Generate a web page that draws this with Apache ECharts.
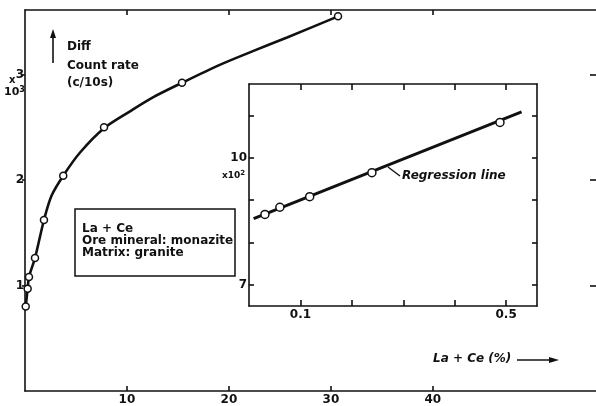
<!DOCTYPE html>
<html><head><meta charset="utf-8">
<script src="https://cdn.jsdelivr.net/npm/echarts@6/dist/echarts.min.js"></script>
<style>html,body{margin:0;padding:0;background:#fff}#c{width:596px;height:406px}</style>
</head><body><div id="c"></div>
<script>
// Main curve: La+Ce (%) vs diff count rate (x10^3 c/10s) - measured points
const mainX = [0.07, 0.26, 0.39, 0.98, 1.86, 3.75, 7.75, 15.4, 30.7];
const mainY = [0.80, 0.97, 1.08, 1.26, 1.62, 2.04, 2.50, 2.92, 3.55];
// drawn curve
const curveX = [0.07, 0.26, 0.39, 0.98, 1.86, 2.6, 3.75, 5.4, 7.75, 10.3, 12.5, 15.4, 19.1, 22.35, 25.7, 30.7];
const curveY = [0.80, 0.97, 1.08, 1.26, 1.62, 1.85, 2.04, 2.26, 2.49, 2.65, 2.78, 2.92, 3.09, 3.22, 3.35, 3.55];
const mainXTicks = [10, 20, 30, 40];
const mainYTicks = [1, 2, 3];
// Inset: low-concentration range (x10^2 c/10s)
const insetX = [0.031, 0.060, 0.118, 0.239, 0.488];
const insetY = [8.66, 8.83, 9.08, 9.65, 10.84];
const regX = [0.009, 0.530];
const regY = [8.56, 11.09];
const insetXTicks = [0.1, 0.2, 0.3, 0.4, 0.5];
const insetXLabels = [0.1, 0.5];
const insetYTicks = [7, 8, 9, 10, 11];
const insetYLabels = [7, 10];

const FONT = 'DejaVu Sans';
const K = '#111';
const line = {show: true, onZero: false, lineStyle: {color: K, width: 1.6}};
const tick = (inside, len, vals) => ({show: true, inside: inside, length: len, customValues: vals, lineStyle: {color: K, width: 1.6}});
const lab = (vals, extra) => Object.assign({customValues: vals, color: K, fontFamily: FONT, fontWeight: 'bold', fontSize: 12}, extra);

const chart = echarts.init(document.getElementById('c'), null, {renderer: 'canvas'});
chart.setOption({
  animation: false,
  backgroundColor: '#fff',
  grid: [
    {left: 25, top: 10, right: -1, bottom: 15, containLabel: false},
    {left: 249, top: 84, right: 59, bottom: 100, containLabel: false}
  ],
  xAxis: [
    {gridIndex: 0, type: 'value', min: 0, max: 56, position: 'bottom',
     axisLine: line, axisTick: tick(true, 5, mainXTicks), splitLine: {show: false},
     axisLabel: lab(mainXTicks, {margin: 3})},
    {gridIndex: 0, type: 'value', min: 0, max: 56, position: 'top',
     axisLine: line, axisTick: tick(true, 5, mainXTicks), splitLine: {show: false}, axisLabel: {show: false}},
    {gridIndex: 1, type: 'value', min: 0, max: 0.56, position: 'bottom',
     axisLine: line, axisTick: tick(true, 6, insetXTicks), splitLine: {show: false},
     axisLabel: lab(insetXLabels, {margin: 3})},
    {gridIndex: 1, type: 'value', min: 0, max: 0.56, position: 'top',
     axisLine: line, axisTick: tick(true, 6, insetXTicks), splitLine: {show: false}, axisLabel: {show: false}}
  ],
  yAxis: [
    {gridIndex: 0, type: 'value', min: 0, max: 3.61, position: 'left',
     axisLine: line, axisTick: tick(false, 3, mainYTicks), splitLine: {show: false},
     axisLabel: lab(mainYTicks, {margin: 1})},
    {gridIndex: 0, type: 'value', min: 0, max: 3.61, position: 'right',
     axisLine: {show: false, onZero: false}, axisTick: tick(true, 6, mainYTicks), splitLine: {show: false}, axisLabel: {show: false}},
    {gridIndex: 1, type: 'value', min: 6.49, max: 11.75, position: 'left',
     axisLine: line, axisTick: tick(true, 5, insetYTicks), splitLine: {show: false},
     axisLabel: lab(insetYLabels, {margin: 2})},
    {gridIndex: 1, type: 'value', min: 6.49, max: 11.75, position: 'right',
     axisLine: line, axisTick: tick(true, 5, insetYTicks), splitLine: {show: false}, axisLabel: {show: false}}
  ],
  series: [
    {type: 'line', xAxisIndex: 0, yAxisIndex: 0, smooth: 0.3,
     data: curveX.map((x, i) => [x, curveY[i]]), showSymbol: false,
     lineStyle: {color: K, width: 2.6}, z: 2},
    {type: 'scatter', xAxisIndex: 0, yAxisIndex: 0,
     data: mainX.map((x, i) => [x, mainY[i]]),
     symbol: 'circle', symbolSize: 7,
     itemStyle: {color: '#fff', borderColor: K, borderWidth: 1.5, opacity: 1}, z: 3},
    {type: 'line', xAxisIndex: 2, yAxisIndex: 2,
     data: regX.map((x, i) => [x, regY[i]]),
     showSymbol: false, lineStyle: {color: K, width: 3}, z: 4},
    {type: 'scatter', xAxisIndex: 2, yAxisIndex: 2,
     data: insetX.map((x, i) => [x, insetY[i]]),
     symbol: 'circle', symbolSize: 8,
     itemStyle: {color: '#fff', borderColor: K, borderWidth: 1.5, opacity: 1}, z: 5}
  ],
  graphic: [
    {type: 'line', shape: {x1: 53, y1: 63, x2: 53, y2: 36}, style: {stroke: K, lineWidth: 1.6}},
    {type: 'polygon', shape: {points: [[50, 38], [56, 38], [53, 29]]}, style: {fill: K}},
    {type: 'text', left: 67, top: 41, style: {text: 'Diff', font: 'bold 12px ' + FONT, fill: K}},
    {type: 'text', left: 67, top: 60, style: {text: 'Count rate', font: 'bold 12px ' + FONT, fill: K}},
    {type: 'text', left: 67, top: 77, style: {text: '(c/10s)', font: 'bold 12px ' + FONT, fill: K}},
    {type: 'text', left: 9, top: 75, style: {text: 'x', font: 'bold 10px ' + FONT, fill: K}},
    {type: 'text', left: 4, top: 86, style: {
      text: '{a|10}{b|3}', fill: K,
      rich: {a: {font: 'bold 11px ' + FONT, fill: K}, b: {font: 'bold 8px ' + FONT, fill: K, verticalAlign: 'top', padding: [0, 0, 5, 0]}}}},
    {type: 'rect', shape: {x: 75, y: 209, width: 160, height: 67}, style: {fill: '#fff', stroke: K, lineWidth: 1.5}, z: 10},
    {type: 'text', left: 82, top: 223, z: 11, style: {text: 'La + Ce', font: 'bold 12px ' + FONT, fill: K}},
    {type: 'text', left: 82, top: 235, z: 11, style: {text: 'Ore mineral: monazite', font: 'bold 12px ' + FONT, fill: K}},
    {type: 'text', left: 82, top: 247, z: 11, style: {text: 'Matrix: granite', font: 'bold 12px ' + FONT, fill: K}},
    {type: 'text', left: 222, top: 170, z: 11, style: {text: '{a|x10}{b|2}', fill: K,
      rich: {a: {font: 'bold 9px ' + FONT, fill: K}, b: {font: 'bold 7px ' + FONT, fill: K, verticalAlign: 'top', padding: [0, 0, 4, 0]}}}},
    {type: 'line', z: 11, shape: {x1: 388, y1: 167, x2: 400, y2: 176}, style: {stroke: K, lineWidth: 1.4}},
    {type: 'text', left: 402, top: 170, z: 11, style: {text: 'Regression line', font: 'italic bold 12px ' + FONT, fill: K}},
    {type: 'text', left: 433, top: 353, style: {text: 'La + Ce (%)', font: 'italic bold 12px ' + FONT, fill: K}},
    {type: 'line', shape: {x1: 517, y1: 360, x2: 552, y2: 360}, style: {stroke: K, lineWidth: 1.6}},
    {type: 'polygon', shape: {points: [[549, 357], [549, 363], [559, 360]]}, style: {fill: K}}
  ]
});
</script>
</body></html>
